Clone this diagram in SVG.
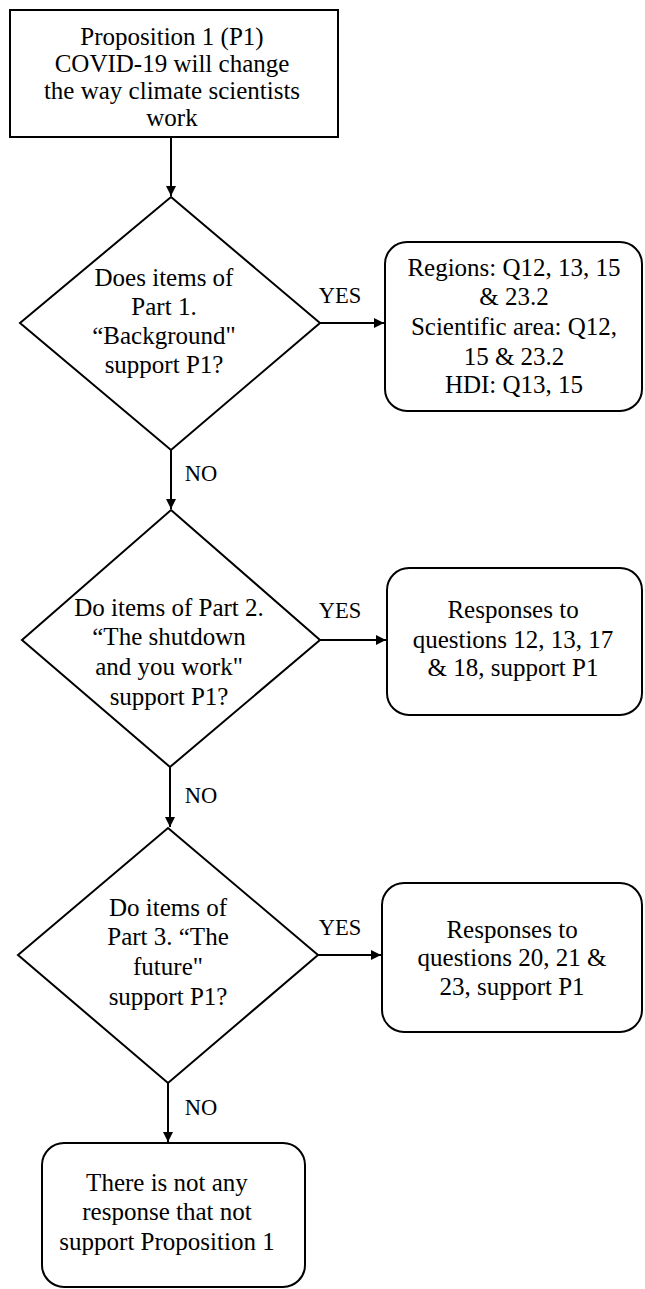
<svg xmlns="http://www.w3.org/2000/svg" width="645" height="1289" viewBox="0 0 645 1289">
<style>
.box{fill:#fff;stroke:#000;stroke-width:2}
.t{font-family:'Liberation Serif','Times New Roman','DejaVu Serif',serif;font-size:25px;fill:#000;text-anchor:middle}
.lbl{font-family:'Liberation Serif','Times New Roman','DejaVu Serif',serif;font-size:22.5px;fill:#000;text-anchor:middle}
.c{stroke:#000;stroke-width:2;fill:none}
</style>
<defs>
<marker id="ah" viewBox="0 0 10 10" refX="10" refY="5" markerWidth="11" markerHeight="10" markerUnits="userSpaceOnUse" orient="auto">
<path d="M0,0 L10,5 L0,10 Z" fill="#000"/>
</marker>
</defs>
<rect width="645" height="1289" fill="#fff"/>
<g id="connectors">
<line class="c" x1="171" y1="137" x2="171" y2="196" marker-end="url(#ah)"/>
<line class="c" x1="320" y1="323" x2="384" y2="323" marker-end="url(#ah)"/>
<line class="c" x1="171" y1="450" x2="171" y2="509" marker-end="url(#ah)"/>
<line class="c" x1="320" y1="640" x2="386" y2="640" marker-end="url(#ah)"/>
<line class="c" x1="170" y1="767" x2="170" y2="827" marker-end="url(#ah)"/>
<line class="c" x1="318" y1="955" x2="381" y2="955" marker-end="url(#ah)"/>
<line class="c" x1="168" y1="1083" x2="168" y2="1142" marker-end="url(#ah)"/>
<text class="lbl" x="340" y="303" font-family="Liberation Serif, serif">YES</text>
<text class="lbl" x="201" y="481" font-family="Liberation Serif, serif">NO</text>
<text class="lbl" x="340" y="618" font-family="Liberation Serif, serif">YES</text>
<text class="lbl" x="201" y="803" font-family="Liberation Serif, serif">NO</text>
<text class="lbl" x="340" y="935" font-family="Liberation Serif, serif">YES</text>
<text class="lbl" x="201" y="1115" font-family="Liberation Serif, serif">NO</text>
</g>
<g id="p1">
<rect class="box" x="10" y="10" width="328" height="127"/>
<text class="t" x="172" y="45">Proposition 1 (P1)</text>
<text class="t" x="172" y="72">COVID-19 will change</text>
<text class="t" x="172" y="99">the way climate scientists</text>
<text class="t" x="172" y="126">work</text>
</g>
<g id="q1">
<polygon class="box" points="171,197 320,323 171,450 20,323"/>
<text class="t" x="164" y="286">Does items of</text>
<text class="t" x="164" y="315">Part 1.</text>
<text class="t" x="164" y="344">“Background"</text>
<text class="t" x="164" y="373">support P1?</text>
</g>
<g id="r1">
<rect class="box" x="385" y="242" width="257" height="169" rx="22" ry="22"/>
<text class="t" x="514" y="276">Regions: Q12, 13, 15</text>
<text class="t" x="514" y="305">&amp; 23.2</text>
<text class="t" x="514" y="335">Scientific area: Q12,</text>
<text class="t" x="514" y="365">15 &amp; 23.2</text>
<text class="t" x="514" y="393">HDI: Q13, 15</text>
</g>
<g id="q2">
<polygon class="box" points="171,510 320,640 170,767 22,640"/>
<text class="t" x="169" y="616">Do items of Part 2.</text>
<text class="t" x="169" y="645">“The shutdown</text>
<text class="t" x="169" y="675">and you work"</text>
<text class="t" x="169" y="705">support P1?</text>
</g>
<g id="r2">
<rect class="box" x="387" y="568" width="255" height="147" rx="22" ry="22"/>
<text class="t" x="513" y="618">Responses to</text>
<text class="t" x="513" y="648">questions 12, 13, 17</text>
<text class="t" x="513" y="676">&amp; 18, support P1</text>
</g>
<g id="q3">
<polygon class="box" points="168,828 318,955 168,1083 18,955"/>
<text class="t" x="168" y="916">Do items of</text>
<text class="t" x="168" y="945">Part 3. “The</text>
<text class="t" x="168" y="975">future"</text>
<text class="t" x="168" y="1005">support P1?</text>
</g>
<g id="r3">
<rect class="box" x="382" y="883" width="260" height="149" rx="22" ry="22"/>
<text class="t" x="512" y="938">Responses to</text>
<text class="t" x="512" y="966">questions 20, 21 &amp;</text>
<text class="t" x="512" y="995">23, support P1</text>
</g>
<g id="end">
<rect class="box" x="42" y="1143" width="263" height="144" rx="22" ry="22"/>
<text class="t" x="167" y="1191">There is not any</text>
<text class="t" x="167" y="1220">response that not</text>
<text class="t" x="167" y="1250">support Proposition 1</text>
</g>
</svg>
